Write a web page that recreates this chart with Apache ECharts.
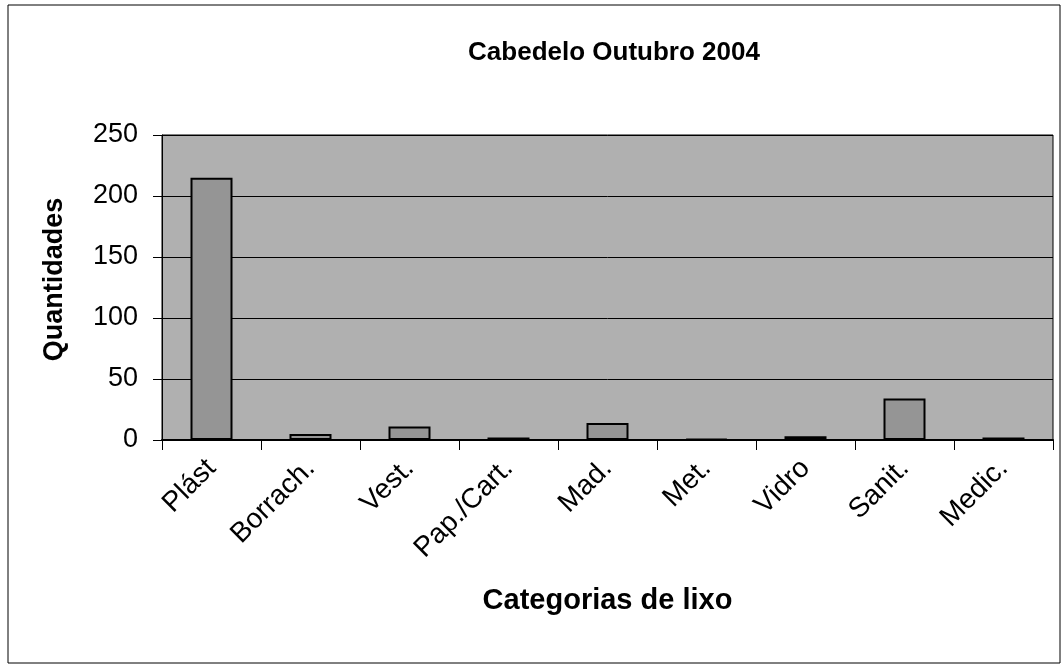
<!DOCTYPE html>
<html>
<head>
<meta charset="utf-8">
<script src="https://cdn.jsdelivr.net/npm/echarts@6/dist/echarts.min.js"></script>
<style>
  html, body { margin: 0; padding: 0; background: #fff; }
  #chart { width: 1063px; height: 667px; }
</style>
</head>
<body>
<div id="chart"></div>
<script>
const categories = ["Plást", "Borrach.", "Vest.", "Pap./Cart.", "Mad.", "Met.", "Vidro", "Sanit.", "Medic."];
const quantities = [215, 5, 11, 2, 14, 1, 3, 34, 2];
const yTicks = [0, 50, 100, 150, 200, 250];

const chart = echarts.init(document.getElementById("chart"));
const font = "Liberation Sans, Arial, sans-serif";

chart.setOption({
    backgroundColor: "#fff",
    animation: false,
    graphic: [{
        type: "rect",
        shape: { x: 8, y: 5, width: 1052, height: 658 },
        style: { fill: "none", stroke: "#000", lineWidth: 1 }
    }],
    title: {
        text: "Cabedelo Outubro 2004",
        left: 609,
        top: 35,
        textAlign: "center",
        textStyle: { fontFamily: font, fontSize: 26, fontWeight: "bold", color: "#000" }
    },
    grid: {
        left: 162, right: 10, top: 135, bottom: 227,
        show: true,
        backgroundColor: "#b0b0b0",
        borderColor: "#000",
        borderWidth: 1
    },
    xAxis: {
        type: "category",
        data: categories,
        name: "Categorias de lixo",
        nameLocation: "middle",
        nameGap: 146,
        nameTextStyle: { fontFamily: font, fontSize: 29, fontWeight: "bold", color: "#000" },
        axisLine: { lineStyle: { color: "#000", width: 2 } },
        axisTick: { show: true, length: 10, alignWithLabel: false, lineStyle: { color: "#000" } },
        axisLabel: { rotate: 45, margin: 24, fontFamily: font, fontSize: 28, color: "#000" }
    },
    yAxis: {
        type: "value",
        min: 0,
        max: yTicks[yTicks.length - 1],
        interval: yTicks[1] - yTicks[0],
        name: "Quantidades",
        nameLocation: "middle",
        nameGap: 94,
        nameTextStyle: { fontFamily: font, fontSize: 27, fontWeight: "bold", color: "#000", padding: [0, 0, 0, 16] },
        axisLine: { show: true, lineStyle: { color: "#000" } },
        axisTick: { show: true, length: 9, lineStyle: { color: "#000" } },
        axisLabel: { margin: 24, fontFamily: font, fontSize: 27, color: "#000" },
        splitLine: { lineStyle: { color: "#000", width: 1 } }
    },
    series: [{
        type: "bar",
        data: quantities,
        barWidth: 42,
        itemStyle: { color: "#959595", borderColor: "#000", borderWidth: 2 }
    }]
});
</script>
</body>
</html>
